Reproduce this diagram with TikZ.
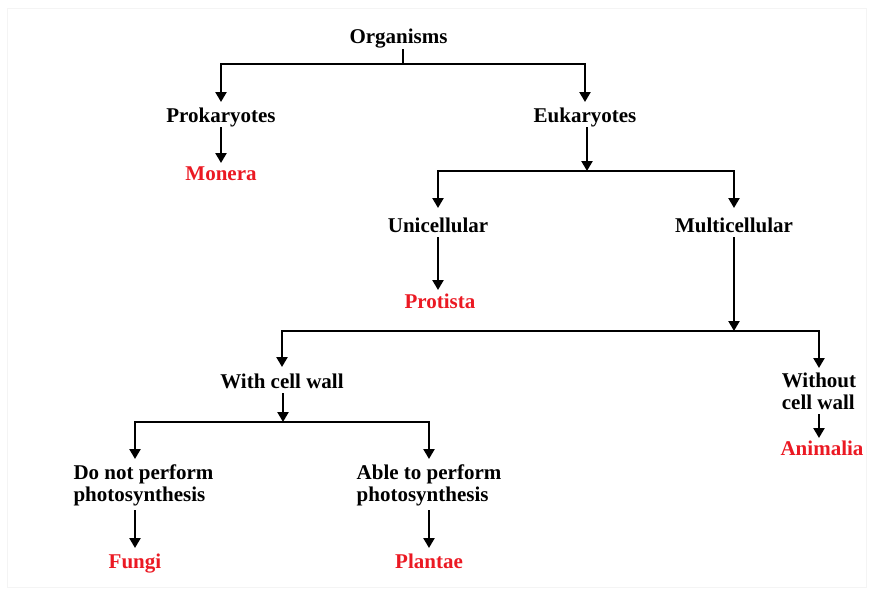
\documentclass[tikz,border=0pt]{standalone}
\usepackage{fontspec}
\setmainfont{Liberation Serif}
\usetikzlibrary{arrows.meta}
\definecolor{kingdomred}{RGB}{235,25,35}
\definecolor{framegray}{RGB}{244,244,244}
\begin{document}
\begin{tikzpicture}[x=1pt, y={(0pt,-1pt)},
  every node/.style={inner sep=0pt, outer sep=0pt, anchor=base,
    font=\fontsize{21}{22}\selectfont\bfseries, text height=13pt, text depth=4pt},
  kingdom/.style={text=kingdomred},
  twoline/.style={text depth=26pt},
  link/.style={line width=2.3pt, line join=miter},
  arr/.style={link, -{Triangle[length=10pt, width=11pt]}},
  fromnode/.style={shorten <=1pt}]
\useasboundingbox (0,0) rectangle (873,590);
\draw[framegray, line width=0.8pt] (7,8) rectangle (866,587);

% classification levels
\node (org)   at (398.5,43) {Organisms};
\node (prok)  at (221,122) {Prokaryotes};
\node[kingdom] (mon) at (221,180) {Monera};
\node (euk)   at (585,122) {Eukaryotes};
\node (uni)   at (438,232) {Unicellular};
\node (multi) at (734,232) {Multicellular};
\node[kingdom] (prot) at (440,308) {Protista};
\node (wcw)   at (282,388) {With cell wall};
\node[twoline] (wocw) at (819,387) {\begin{tabular}[t]{@{}l@{}}Without\\cell wall\end{tabular}};
\node[kingdom] (anim) at (822,455) {Animalia};
\node[twoline] (dnp)  at (143.5,479) {\begin{tabular}[t]{@{}l@{}}Do not perform\\photosynthesis\end{tabular}};
\node[kingdom] (fungi) at (135,568) {Fungi};
\node[twoline] (able) at (429,479) {\begin{tabular}[t]{@{}l@{}}Able to perform\\photosynthesis\end{tabular}};
\node[kingdom] (plan) at (429,568) {Plantae};

% branching points
\coordinate (j1) at (403,64);
\coordinate (j2) at (587,171);
\coordinate (j3) at (734,331);
\coordinate (j4) at (283,422);

% Organisms
\draw[link, shorten <=2pt] (j1 |- org.south) -- (j1);
\draw[arr, shorten >=7pt] (j1) -| (prok.north);
\draw[arr, shorten >=7pt] (j1) -| (euk.north);
\draw[arr, fromnode, shorten >=4pt] (prok.south) -- (mon.north);

% Eukaryotes
\draw[arr, fromnode] (j2 |- euk.south) -- (j2);
\draw[arr, shorten >=11pt] (j2) -| (uni.north);
\draw[arr, shorten >=11pt] (j2) -| (multi.north);
\draw[arr, fromnode, shorten >=5pt] (uni.south) -- (uni.south |- prot.north);

% Multicellular
\draw[arr, fromnode] (multi.south) -- (j3);
\draw[arr, shorten >=8pt] (j3) -| (wcw.north);
\draw[arr, shorten >=6pt] (j3) -| (wocw.north);
\draw[arr, fromnode, shorten >=4pt] (wocw.south) -- (wocw.south |- anim.north);

% With cell wall
\draw[arr, fromnode] (j4 |- wcw.south) -- (j4);
\draw[arr, shorten >=7pt] (j4) -| (fungi.north |- dnp.north);
\draw[arr, shorten >=7pt] (j4) -| (plan.north |- able.north);
\draw[arr, shorten <=5pt, shorten >=7pt] (fungi.north |- dnp.south) -- (fungi.north);
\draw[arr, shorten <=5pt, shorten >=7pt] (plan.north |- able.south) -- (plan.north);
\end{tikzpicture}
\end{document}
